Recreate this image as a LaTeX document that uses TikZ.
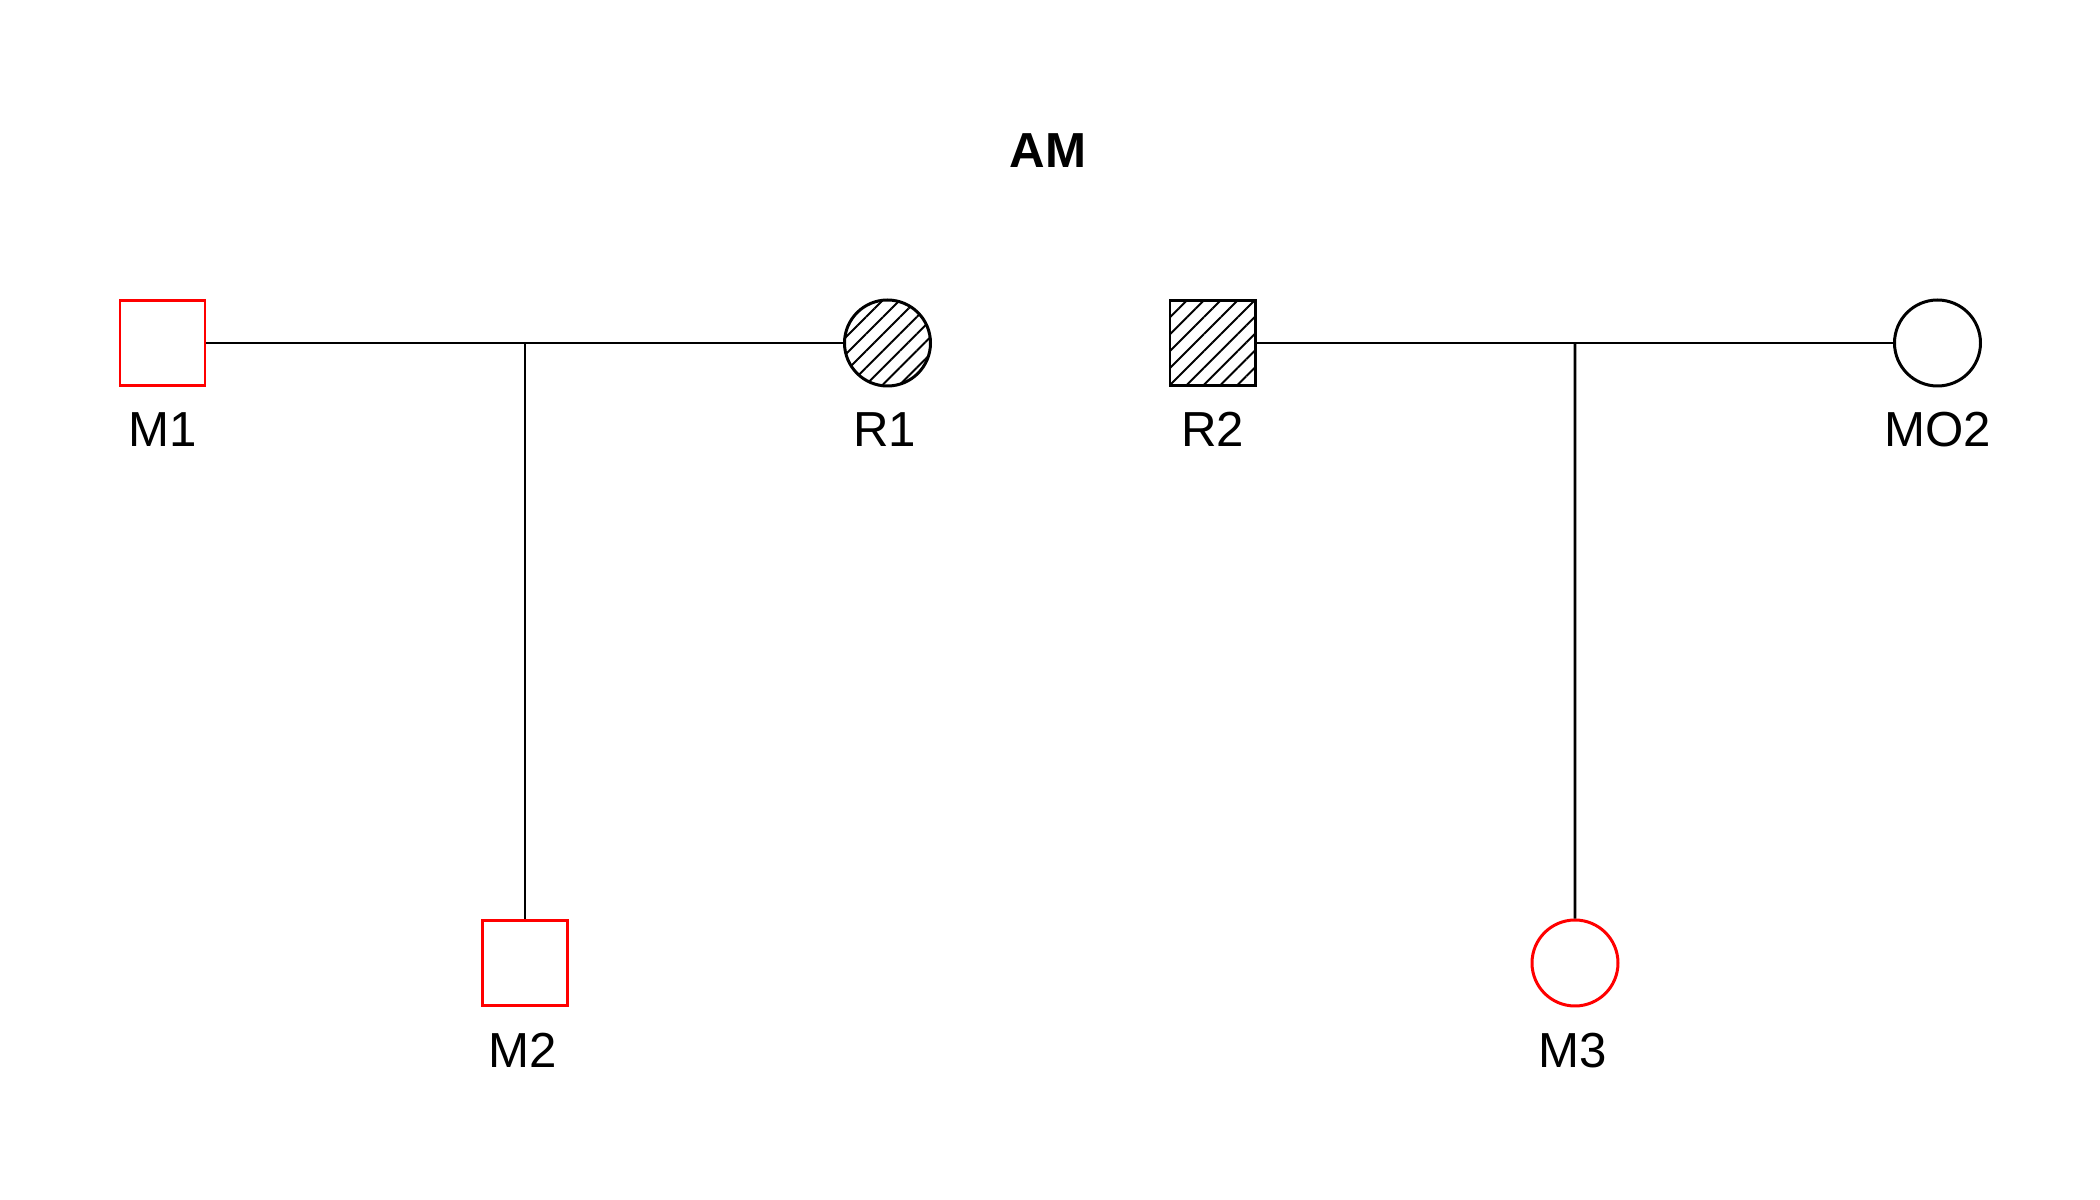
\documentclass[tikz,border=0pt]{standalone}
\usepackage{fontspec}
\setmainfont{Liberation Sans}
\usetikzlibrary{shapes,positioning,calc,patterns.meta}
\definecolor{affred}{HTML}{FF0000}
\definecolor{lineblack}{HTML}{000000}

\tikzset{
  male/.style={rectangle, draw=lineblack, line width=0.85pt, minimum size=0.85cm, inner sep=0pt},
  female/.style={circle, draw=lineblack, line width=0.85pt, minimum size=0.86cm, inner sep=0pt},
  marked/.style={draw=affred},
  hatched/.style={pattern={Lines[angle=45,distance=3.4pt,line width=0.55pt]}},
  lbl/.style={anchor=base, inner sep=0pt, font=\fontsize{14}{16}\selectfont},
  rel/.style={draw=lineblack, line width=0.75pt}
}

\begin{document}
\begin{tikzpicture}
\useasboundingbox (0,0) rectangle (21,12);
% title
\node[anchor=base, font=\fontsize{14}{16}\selectfont\bfseries] (title) at (10.48,10.32) {AM};

% first family
\node[male, marked] (m1) at (1.625,8.57) {};
\node[female, hatched] (r1) at (8.875,8.57) {};
\node[male, marked] (m2) at (5.25,2.37) {};
\coordinate (j1) at ($(m1)!0.5!(r1)$);
\draw[rel] (m1) -- (r1);
\draw[rel] (j1) -- (m2);

% second family
\node[male, hatched] (r2) at (12.125,8.57) {};
\node[female] (mo2) at (19.375,8.57) {};
\node[female, marked] (m3) at (15.75,2.37) {};
\coordinate (j2) at ($(r2)!0.5!(mo2)$);
\draw[rel] (r2) -- (mo2);
\draw[rel] (j2) -- (m3);

% names
\node[lbl] (m1lbl) at ($(m1)+(0,-1.04)$) {M1};
\node[lbl] (r1lbl) at ($(r1)+(-0.03,-1.04)$) {R1};
\node[lbl] (r2lbl) at ($(r2)+(0,-1.04)$) {R2};
\node[lbl] (mo2lbl) at ($(mo2)+(0,-1.04)$) {MO2};
\node[lbl] (m2lbl) at ($(m2)+(-0.02,-1.04)$) {M2};
\node[lbl] (m3lbl) at ($(m3)+(-0.02,-1.04)$) {M3};
\end{tikzpicture}
\end{document}
